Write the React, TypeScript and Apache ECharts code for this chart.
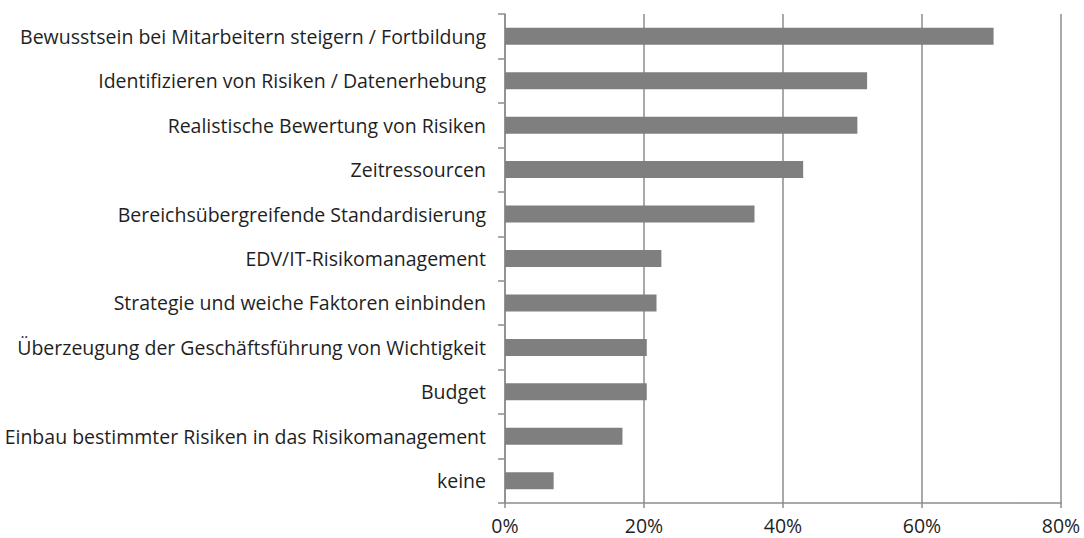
import React, { useEffect, useRef } from "react";
import * as echarts from "echarts";

const categories = [
  "Bewusstsein bei Mitarbeitern steigern / Fortbildung",
  "Identifizieren von Risiken / Datenerhebung",
  "Realistische Bewertung von Risiken",
  "Zeitressourcen",
  "Bereichsübergreifende Standardisierung",
  "EDV/IT-Risikomanagement",
  "Strategie und weiche Faktoren einbinden",
  "Überzeugung der Geschäftsführung von Wichtigkeit",
  "Budget",
  "Einbau bestimmter Risiken in das Risikomanagement",
  "keine",
];

const values = [70.3, 52.1, 50.7, 42.9, 35.9, 22.5, 21.8, 20.4, 20.4, 16.9, 7.0];

const xTicks = [0, 20, 40, 60, 80];

export default function App() {
  const ref = useRef<HTMLDivElement>(null);
  useEffect(() => {
    document.body.style.margin = "0";
    if (!ref.current) return;
    const chart = echarts.init(ref.current, undefined, { renderer: "svg" });
    const font = "'Open Sans', 'Noto Sans', sans-serif";
    chart.setOption({
      animation: false,
      grid: { left: 505, right: 23, top: 14, bottom: 35, containLabel: false },
      xAxis: {
        type: "value",
        min: xTicks[0],
        max: xTicks[xTicks.length - 1],
        interval: 20,
        axisLine: { show: true, lineStyle: { color: "#8c8c8c", width: 1.5 } },
        axisTick: { show: true, length: 5, lineStyle: { color: "#8c8c8c", width: 1.5 } },
        splitLine: { show: true, lineStyle: { color: "#8c8c8c", width: 1.5 } },
        axisLabel: {
          formatter: (v: number) => v + "%",
          fontFamily: font,
          fontSize: 19.5,
          lineHeight: 20,
          color: "#1f1f1f",
          margin: 12,
        },
      },
      yAxis: {
        type: "category",
        inverse: true,
        data: categories,
        axisLine: { show: true, lineStyle: { color: "#8c8c8c", width: 1.5 } },
        axisTick: { show: true, length: 7, alignWithLabel: false, lineStyle: { color: "#8c8c8c", width: 1.5 } },
        splitLine: { show: false },
        axisLabel: {
          fontFamily: font,
          fontSize: 19.5,
          color: "#1f1f1f",
          margin: 19,
        },
      },
      series: [
        {
          type: "bar",
          data: values,
          barWidth: 17,
          itemStyle: { color: "#7f7f7f" },
          silent: true,
        },
      ],
    });
    return () => chart.dispose();
  }, []);
  return <div ref={ref} style={{ width: 1084, height: 538 }} />;
}
